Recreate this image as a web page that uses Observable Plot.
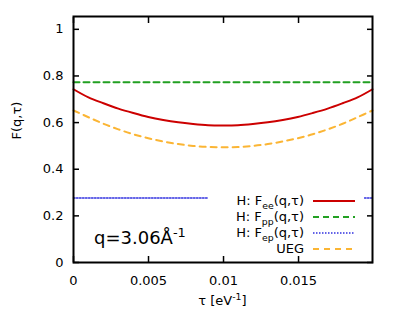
<!DOCTYPE html>
<html>
<head>
<meta charset="utf-8">
<script src="https://cdn.jsdelivr.net/npm/d3@7"></script>
<script src="https://cdn.jsdelivr.net/npm/@observablehq/plot@0.6"></script>
<style>
  body { margin: 0; background: #fff; font-family: "DejaVu Sans", sans-serif; }
  #wrap { position: relative; width: 399px; height: 330px; }
  .ov { position: absolute; color: #000; white-space: nowrap; font-family: "DejaVu Sans", sans-serif; }
  sup, sub { font-size: 0.72em; line-height: 0; }
  #legend { position: absolute; left: 208px; top: 191px; width: 156px; height: 64px; background: #fff; }
  .row { position: absolute; left: 0; width: 156px; height: 16px; font-size: 13px; }
  .row .t { position: absolute; right: 60px; top: 0; line-height: 16px; text-align: right; }
  .row svg { position: absolute; left: 105px; top: 0; }
</style>
</head>
<body>
<div id="wrap"></div>
<script>
// τ grid (eV^-1), 21 samples over [0, β]
const tau = [0, 0.000997, 0.001993, 0.00299, 0.003986, 0.004983, 0.005979, 0.006976, 0.007972, 0.008969, 0.009965,
             0.010962, 0.011958, 0.012955, 0.013951, 0.014948, 0.015944, 0.016941, 0.017937, 0.018934, 0.01993];
// H: F_ee(q,τ)
const Fee = [0.743, 0.708, 0.683, 0.660, 0.641, 0.624, 0.611, 0.601, 0.594, 0.589, 0.588,
             0.589, 0.594, 0.601, 0.611, 0.624, 0.641, 0.660, 0.683, 0.708, 0.743];
// UEG
const Fueg = [0.652, 0.623, 0.595, 0.571, 0.550, 0.533, 0.519, 0.508, 0.500, 0.4955, 0.494,
              0.4955, 0.500, 0.508, 0.519, 0.533, 0.550, 0.571, 0.595, 0.623, 0.652];
// H: F_pp(q,τ) and H: F_ep(q,τ) (flat)
const Fpp = 0.773;
const Fep = 0.277;

const xTicks = [0, 0.005, 0.01, 0.015];
const yTicks = [0, 0.2, 0.4, 0.6, 0.8, 1];
const xTickLabels = ["0", "0.005", "0.01", "0.015"];
const yTickLabels = ["0", "0.2", "0.4", "0.6", "0.8", "1"];

const ee = tau.map((t, i) => ({tau: t, F: Fee[i]}));
const ueg = tau.map((t, i) => ({tau: t, F: Fueg[i]}));
const pp = tau.map(t => ({tau: t, F: Fpp}));
const ep = tau.map(t => ({tau: t, F: Fep}));

const cRed = "#cc0000", cGreen = "#22a022", cBlue = "#3030e0", cOrange = "#fbb534";

const chart = Plot.plot({
  width: 399,
  height: 330,
  marginLeft: 73,
  marginRight: 27,
  marginTop: 16,
  marginBottom: 68,
  style: {fontFamily: "DejaVu Sans, sans-serif", fontSize: "13px", color: "#000", background: "#fff"},
  x: {domain: [0, 0.01993]},
  y: {domain: [0, 1.055]},
  marks: [
    Plot.line(pp, {x: "tau", y: "F", stroke: cGreen, strokeWidth: 2, strokeDasharray: "6,4"}),
    Plot.line(ep, {x: "tau", y: "F", stroke: cBlue, strokeWidth: 1.5, strokeDasharray: "1.5,1.5"}),
    Plot.line(ueg, {x: "tau", y: "F", stroke: cOrange, strokeWidth: 2, strokeDasharray: "6,5", curve: "catmull-rom"}),
    Plot.line(ee, {x: "tau", y: "F", stroke: cRed, strokeWidth: 2, curve: "catmull-rom"}),
    Plot.axisX(xTicks, {anchor: "bottom", tickSize: -6, tickPadding: 19, strokeWidth: 1.5, label: null,
      tickFormat: d => xTickLabels[xTicks.indexOf(d)]}),
    Plot.axisX(xTicks, {anchor: "top", tickSize: -6, strokeWidth: 1.5, label: null, tickFormat: () => ""}),
    Plot.axisY(yTicks, {anchor: "left", tickSize: -6, tickPadding: 16, strokeWidth: 1.5, label: null,
      tickFormat: d => yTickLabels[yTicks.indexOf(d)]}),
    Plot.axisY(yTicks, {anchor: "right", tickSize: -6, strokeWidth: 1.5, label: null, tickFormat: () => ""}),
    Plot.frame({stroke: "#000", strokeWidth: 2}),
    Plot.text(["F(q,τ)"], {frameAnchor: "left", rotate: -90, dx: -57, fontSize: 13})
  ]
});

const wrap = document.getElementById("wrap");
wrap.appendChild(chart);

function ov(html, css) {
  const d = document.createElement("div");
  d.className = "ov";
  d.innerHTML = html;
  Object.assign(d.style, css);
  wrap.appendChild(d);
  return d;
}
// x axis label
ov("τ [eV<sup>-1</sup>]", {left: "0px", width: "445px", textAlign: "center", top: "293px", fontSize: "13px"});
// q annotation
ov("q=3.06Å<sup>-1</sup>", {left: "94px", top: "227px", fontSize: "18px"});

// legend
const legendItems = [
  {html: "H: F<sub>ee</sub>(q,τ)", color: cRed, dash: null, w: 2},
  {html: "H: F<sub>pp</sub>(q,τ)", color: cGreen, dash: "6,4", w: 2},
  {html: "H: F<sub>ep</sub>(q,τ)", color: cBlue, dash: "1.5,1.5", w: 1.5},
  {html: "UEG", color: cOrange, dash: "6,5", w: 2}
];
const leg = document.createElement("div");
leg.id = "legend";
wrap.appendChild(leg);
legendItems.forEach((it, i) => {
  const r = document.createElement("div");
  r.className = "row";
  r.style.top = (2 + i * 16) + "px";
  r.innerHTML = `<span class="t">${it.html}</span>` +
    `<svg width="44" height="16"><line x1="0" x2="42" y1="8" y2="8" stroke="${it.color}" stroke-width="${it.w}"` +
    (it.dash ? ` stroke-dasharray="${it.dash}"` : "") + `/></svg>`;
  leg.appendChild(r);
});
</script>
</body>
</html>
